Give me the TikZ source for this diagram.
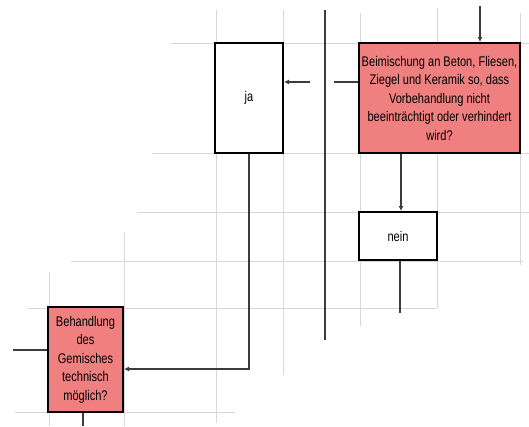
\documentclass[tikz,border=0pt]{standalone}
\usepackage{fontspec}
\setmainfont{Liberation Sans}[FakeStretch=0.79]
\usetikzlibrary{arrows.meta}
\definecolor{boxred}{RGB}{240,128,128}
\definecolor{gridgray}{RGB}{215,215,215}
\definecolor{linegray}{RGB}{60,60,60}
\tikzset{
  box/.style={draw=black, line width=2pt, inner sep=0pt, align=center,
    font=\fontsize{14}{18.5}\selectfont},
  redbox/.style={box, fill=boxred},
  gridline/.style={draw=gridgray, line width=1pt},
  conn/.style={draw=linegray, line width=1.3pt},
  arr/.style={conn, -{Latex[length=5pt,width=5pt]}},
}
\begin{document}
\begin{tikzpicture}[x=1pt,y=-1pt]
\useasboundingbox (0,0) rectangle (529,426);
\fill[white] (0,0) rectangle (529,426);
% grid
\draw[gridline] (171,43) -- (529,43);
\draw[gridline] (152,153) -- (529,153);
\draw[gridline] (137,212) -- (529,212);
\draw[gridline] (71,261) -- (523,261);
\draw[gridline] (28,308) -- (437,308);
\draw[gridline] (15,412) -- (235,412);
\draw[gridline] (49,272) -- (49,426);
\draw[gridline] (124,232) -- (124,426);
\draw[gridline] (216,10) -- (216,423);
\draw[gridline] (283,10) -- (283,375);
\draw[gridline] (360,13) -- (360,326);
\draw[gridline] (437,8) -- (437,308);
\draw[gridline] (520,13) -- (520,265);
% boxes
\node[box, fill=white, minimum width=68pt, minimum height=110pt] (ja) at (249,98) {ja};
\node[redbox, minimum width=161pt, minimum height=110pt] (red1) at (439.5,98)
  {Beimischung an Beton, Fliesen,\\Ziegel und Keramik so, dass\\Vorbehandlung nicht\\beeinträchtigt oder verhindert\\wird?};
\node[box, fill=white, minimum width=78pt, minimum height=48pt] (nein) at (398,236) {nein};
\node[redbox, minimum width=75pt, minimum height=105pt] (red2) at (85.5,359.5)
  {Behandlung\\des\\Gemisches\\technisch\\möglich?};
% connectors
\coordinate (topin) at (480,6);
\draw[arr] (topin) -- (topin |- red1.north);
\coordinate (gapR) at (334,82);
\draw[conn] (red1.west |- gapR) -- (gapR);
\coordinate (gapL) at (310,82);
\draw[arr] (gapL) -- (ja.east |- gapL);
\coordinate (dn) at (401,0);
\draw[arr] (red1.south -| dn) -- (nein.north -| dn);
\coordinate (neinend) at (400,313);
\draw[conn] (nein.south -| neinend) -- (neinend);
\coordinate (jaturn) at (249,369);
\draw[arr] (ja.south) -- (jaturn) -- (red2.east |- jaturn);
\coordinate (leftin) at (13,350);
\draw[conn] (leftin) -- (red2.west |- leftin);
\coordinate (botout) at (83,426);
\draw[conn] (red2.south -| botout) -- (botout);
\coordinate (divtop) at (325,10);
\coordinate (divbot) at (325,340);
\draw[conn] (divtop) -- (divbot);
\end{tikzpicture}
\end{document}
